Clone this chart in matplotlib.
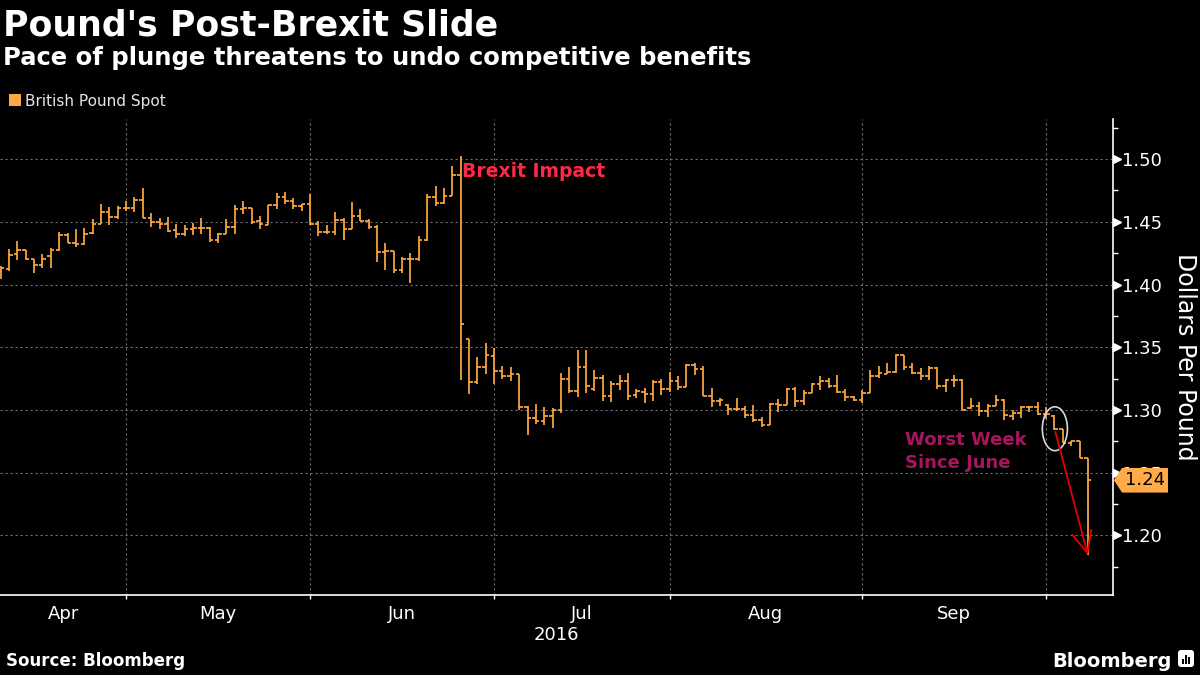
import numpy as np
import pandas as pd
import matplotlib
matplotlib.use('Agg')
import matplotlib.pyplot as plt
import matplotlib.transforms as mtransforms
from matplotlib.patches import Polygon, Rectangle, Ellipse, FancyArrowPatch, FancyBboxPatch

# GBP/USD daily bars, 8 Apr 2016 - 7 Oct 2016 (weekdays)
dates = pd.bdate_range('2016-04-08', '2016-10-07')

opens = [1.4105, 1.4125, 1.4244, 1.4276, 1.4204, 1.4159, 1.4231, 1.4273, 1.4395, 1.4332,
         1.4321, 1.4408, 1.4483, 1.4578, 1.4538, 1.4610, 1.4610, 1.4676, 1.4531, 1.4499,
         1.4483, 1.4435, 1.4403, 1.4446, 1.4451, 1.4451, 1.4358, 1.4403, 1.4459, 1.4602,
         1.4607, 1.4504, 1.4477, 1.4634, 1.4698, 1.4668, 1.4623, 1.4639, 1.4483, 1.4419,
         1.4419, 1.4515, 1.4443, 1.4544, 1.4509, 1.4459, 1.4260, 1.4268, 1.4117, 1.4204,
         1.4204, 1.4355, 1.4698, 1.4647, 1.4706, 1.4875, 1.3562, 1.3225, 1.3345, 1.3431,
         1.3312, 1.3272, 1.3288, 1.3024, 1.2937, 1.2915, 1.2955, 1.2997, 1.3246, 1.3148,
         1.3341, 1.3167, 1.3254, 1.3108, 1.3206, 1.3228, 1.3122, 1.3140, 1.3127, 1.3222,
         1.3167, 1.3233, 1.3183, 1.3360, 1.3325, 1.3108, 1.3074, 1.3042, 1.3008, 1.3008,
         1.2963, 1.2923, 1.2878, 1.3048, 1.3037, 1.3167, 1.3074, 1.3135, 1.3206, 1.3228,
         1.3193, 1.3140, 1.3101, 1.3082, 1.3135, 1.3267, 1.3286, 1.3302, 1.3439, 1.3339,
         1.3294, 1.3272, 1.3333, 1.3188, 1.3241, 1.3241, 1.3016, 1.3034, 1.2989, 1.3029,
         1.3082, 1.2955, 1.2976, 1.3024, 1.3024, 1.2968, 1.2949, 1.2846, 1.2737, 1.2750,
         1.2617]
highs = [1.4146, 1.4284, 1.4345, 1.4279, 1.4207, 1.4244, 1.4292, 1.4416, 1.4411, 1.4446,
         1.4451, 1.4525, 1.4642, 1.4618, 1.4623, 1.4663, 1.4695, 1.4769, 1.4570, 1.4531,
         1.4538, 1.4483, 1.4477, 1.4491, 1.4531, 1.4456, 1.4411, 1.4523, 1.4637, 1.4663,
         1.4610, 1.4544, 1.4637, 1.4729, 1.4740, 1.4690, 1.4642, 1.4721, 1.4509, 1.4477,
         1.4581, 1.4531, 1.4658, 1.4605, 1.4525, 1.4472, 1.4332, 1.4271, 1.4220, 1.4252,
         1.4385, 1.4721, 1.4788, 1.4769, 1.4942, 1.5021, 1.3568, 1.3424, 1.3536, 1.3492,
         1.3347, 1.3339, 1.3288, 1.3029, 1.3048, 1.3024, 1.3016, 1.3294, 1.3341, 1.3479,
         1.3479, 1.3315, 1.3280, 1.3228, 1.3280, 1.3294, 1.3167, 1.3175, 1.3241, 1.3246,
         1.3299, 1.3272, 1.3368, 1.3373, 1.3347, 1.3175, 1.3095, 1.3050, 1.3095, 1.3029,
         1.3042, 1.2944, 1.3056, 1.3087, 1.3175, 1.3183, 1.3161, 1.3214, 1.3267, 1.3254,
         1.3280, 1.3167, 1.3108, 1.3156, 1.3315, 1.3352, 1.3373, 1.3444, 1.3439, 1.3373,
         1.3333, 1.3352, 1.3339, 1.3246, 1.3280, 1.3246, 1.3095, 1.3063, 1.3048, 1.3122,
         1.3087, 1.2997, 1.3029, 1.3034, 1.3063, 1.3024, 1.2960, 1.2846, 1.2755, 1.2750,
         1.2617]
lows = [1.4045, 1.4109, 1.4194, 1.4199, 1.4093, 1.4133, 1.4133, 1.4271, 1.4332, 1.4300,
        1.4316, 1.4406, 1.4483, 1.4475, 1.4525, 1.4584, 1.4581, 1.4531, 1.4459, 1.4446,
        1.4420, 1.4371, 1.4385, 1.4395, 1.4403, 1.4342, 1.4332, 1.4403, 1.4406, 1.4562,
        1.4483, 1.4446, 1.4477, 1.4602, 1.4642, 1.4602, 1.4586, 1.4477, 1.4385, 1.4406,
        1.4395, 1.4355, 1.4443, 1.4504, 1.4446, 1.4180, 1.4114, 1.4093, 1.4093, 1.4013,
        1.4190, 1.4345, 1.4623, 1.4642, 1.4706, 1.3236, 1.3125, 1.3210, 1.3289, 1.3206,
        1.3246, 1.3228, 1.3003, 1.2799, 1.2884, 1.2878, 1.2857, 1.2976, 1.3135, 1.3103,
        1.3135, 1.3153, 1.3074, 1.3061, 1.3161, 1.3077, 1.3095, 1.3056, 1.3069, 1.3122,
        1.3140, 1.3161, 1.3183, 1.3280, 1.3108, 1.3024, 1.3029, 1.2963, 1.2989, 1.2937,
        1.2902, 1.2865, 1.2878, 1.2984, 1.3037, 1.3024, 1.3042, 1.3135, 1.3161, 1.3175,
        1.3135, 1.3069, 1.3069, 1.3056, 1.3135, 1.3254, 1.3286, 1.3294, 1.3315, 1.3286,
        1.3241, 1.3235, 1.3167, 1.3143, 1.3183, 1.3000, 1.3008, 1.2955, 1.2944, 1.3029,
        1.2918, 1.2918, 1.2937, 1.2982, 1.2963, 1.2930, 1.2840, 1.2734, 1.2710, 1.2614,
        1.1843]
closes = [1.4133, 1.4236, 1.4276, 1.4204, 1.4159, 1.4204, 1.4279, 1.4395, 1.4332, 1.4321,
          1.4406, 1.4483, 1.4578, 1.4538, 1.4610, 1.4610, 1.4676, 1.4531, 1.4499, 1.4483,
          1.4424, 1.4403, 1.4446, 1.4451, 1.4451, 1.4358, 1.4406, 1.4459, 1.4602, 1.4607,
          1.4496, 1.4483, 1.4634, 1.4698, 1.4668, 1.4623, 1.4639, 1.4483, 1.4419, 1.4419,
          1.4515, 1.4443, 1.4544, 1.4509, 1.4459, 1.4260, 1.4268, 1.4117, 1.4204, 1.4204,
          1.4355, 1.4698, 1.4647, 1.4706, 1.4873, 1.3682, 1.3225, 1.3345, 1.3435, 1.3312,
          1.3272, 1.3288, 1.3024, 1.2937, 1.2915, 1.2955, 1.2997, 1.3246, 1.3148, 1.3341,
          1.3188, 1.3254, 1.3108, 1.3206, 1.3228, 1.3108, 1.3148, 1.3127, 1.3222, 1.3167,
          1.3233, 1.3183, 1.3360, 1.3325, 1.3108, 1.3074, 1.3082, 1.3008, 1.3008, 1.2963,
          1.2923, 1.2878, 1.3048, 1.3037, 1.3167, 1.3074, 1.3135, 1.3206, 1.3228, 1.3193,
          1.3140, 1.3101, 1.3082, 1.3135, 1.3272, 1.3294, 1.3302, 1.3439, 1.3339, 1.3294,
          1.3272, 1.3333, 1.3188, 1.3241, 1.3241, 1.3000, 1.3034, 1.2989, 1.3029, 1.3082,
          1.2963, 1.2976, 1.3024, 1.3024, 1.2968, 1.2968, 1.2848, 1.2737, 1.2750, 1.2617,
          1.2439]

y_ticks = [1.20, 1.25, 1.30, 1.35, 1.40, 1.45, 1.50]
last_price = closes[-1]

orange = '#ffa83f'
grid_col = '#707070'

x = np.arange(len(dates))

# month boundaries sit on the last weekday of each month
month_id = dates.to_period('M')
last_idx = [int(np.where(month_id == m)[0][-1]) for m in month_id.unique()]
bounds = last_idx[:-1]
starts = [0] + bounds
month_mid = [(a + b) / 2 for a, b in zip(starts, bounds)]
month_names = [d.strftime('%b') for d in month_id.unique()[:-1].to_timestamp()]

fig = plt.figure(figsize=(12, 6.75), dpi=100, facecolor='black')
ax = fig.add_axes([0, 0.1185, 0.9275, 0.7052], facecolor='black')

ax.vlines(x, lows, highs, color=orange, lw=1.25, zorder=3)
ax.hlines(opens, x - 0.42, x, color=orange, lw=1.25, zorder=3)
ax.hlines(closes, x, x + 0.42, color=orange, lw=1.25, zorder=3)

ax.set_xlim(-0.08, 133.0)
ax.set_ylim(1.1524, 1.532)

# axes styling
for s in ['left', 'top']:
    ax.spines[s].set_visible(False)
for s in ['right', 'bottom']:
    ax.spines[s].set_color('white')
    ax.spines[s].set_linewidth(1.2)

ax.yaxis.tick_right()
ax.set_yticks(y_ticks)
ax.set_yticklabels([f'{v:.2f}' for v in y_ticks])
ax.set_yticks(np.arange(1.175, 1.53, 0.05), minor=True)
ax.tick_params(axis='y', which='major', length=0, pad=6.5, labelcolor='white', labelsize=13)
ax.tick_params(axis='y', which='minor', length=3.5, width=1, color='white', direction='out')

ax.set_xticks(bounds)
ax.set_xticklabels([])
ax.set_xticks(month_mid, minor=True)
ax.set_xticklabels(month_names, minor=True)
ax.tick_params(axis='x', which='major', length=3, width=1, color='white', direction='out')
ax.tick_params(axis='x', which='minor', length=0, pad=7, labelcolor='white', labelsize=13)

ax.grid(True, which='major', color=grid_col, lw=0.8, linestyle=(0, (2, 2.5)))
ax.set_axisbelow(True)

# triangle markers on the major y ticks
tri_trans = mtransforms.offset_copy(
    mtransforms.blended_transform_factory(ax.transAxes, ax.transData),
    fig=fig, x=4, y=0, units='dots')
ax.plot(np.ones(len(y_ticks)), y_ticks, transform=tri_trans, ls='none', marker='>',
        ms=6, color='white', clip_on=False, zorder=4)

# last price badge (sits over the 1.25 label, as in the original)
bt = mtransforms.blended_transform_factory(ax.transAxes, ax.transData)
badge = Polygon([[1.0008, last_price], [1.0081, last_price + 0.0098],
                 [1.0494, last_price + 0.0098], [1.0494, last_price - 0.0098],
                 [1.0081, last_price - 0.0098]], closed=True, transform=bt,
                facecolor='#ffab48', edgecolor='none', clip_on=False, zorder=6)
ax.add_patch(badge)
ax.text(1.0105, last_price, f'{last_price:.2f}', transform=bt, ha='left', va='center',
        fontsize=13, color='black', zorder=7, clip_on=False)

# annotations
ax.text(55.2, 1.4856, 'Brexit Impact', color='#ff2846', fontsize=13.5,
        fontweight='bold', va='baseline', ha='left', zorder=5)
ax.text(108.1, 1.272, 'Worst Week', color='#a8155f', fontsize=13,
        fontweight='bold', va='baseline', ha='left', zorder=5)
ax.text(108.1, 1.2534, 'Since June', color='#a8155f', fontsize=13,
        fontweight='bold', va='baseline', ha='left', zorder=5)

ax.add_patch(Ellipse((126.05, 1.285), 3.0, 0.035, facecolor='none',
                     edgecolor='#d8d8d8', lw=1.2, zorder=5))
ax.add_patch(FancyArrowPatch((126.1, 1.2826), (130.0, 1.1842),
                             arrowstyle='->,head_length=1.1,head_width=0.5',
                             mutation_scale=14, color='#e60000', lw=1.3,
                             shrinkA=0, shrinkB=0, zorder=5))

# titles, legend, footer
fig.text(0.0025, 0.9467, "Pound's Post-Brexit Slide", color='white', fontsize=25,
         fontweight='bold', va='baseline')
fig.text(0.0025, 0.9037, 'Pace of plunge threatens to undo competitive benefits',
         color='white', fontsize=17.5, fontweight='bold', va='baseline')
fig.patches.append(Rectangle((9.3 / 1200, 1 - 106 / 675), 11.4 / 1200, 11.7 / 675,
                             transform=fig.transFigure, facecolor=orange,
                             edgecolor='none'))
fig.text(25 / 1200, 0.843, 'British Pound Spot', color='#e6e6e6', fontsize=11,
         va='baseline')

fig.text(1185 / 1200, 1 - 357 / 675, 'Dollars Per Pound', color='white', fontsize=17,
         rotation=270, ha='center', va='center')
fig.text(556 / 1200, 1 - 635 / 675, '2016', color='white', fontsize=13,
         ha='center', va='center')
fig.text(6 / 1200, 1 - 666 / 675, 'Source: Bloomberg', color='white', fontsize=12,
         fontweight='bold', va='baseline')
fig.text(1172 / 1200, 1 - 667 / 675, 'Bloomberg', color='white', fontsize=14,
         fontweight='bold', va='baseline', ha='right')

# little logo mark
fig.patches.append(FancyBboxPatch((11.78, 0.08), 0.16, 0.17,
                                  boxstyle='round,pad=0,rounding_size=0.03',
                                  transform=fig.dpi_scale_trans, facecolor='white',
                                  edgecolor='none'))
for bx, bh in [(11.82, 0.05), (11.85, 0.09), (11.88, 0.07)]:
    fig.patches.append(Rectangle((bx, 0.11), 0.018, bh, transform=fig.dpi_scale_trans,
                                 facecolor='black', edgecolor='none'))

fig.savefig('out.png', dpi=100, facecolor='black')
